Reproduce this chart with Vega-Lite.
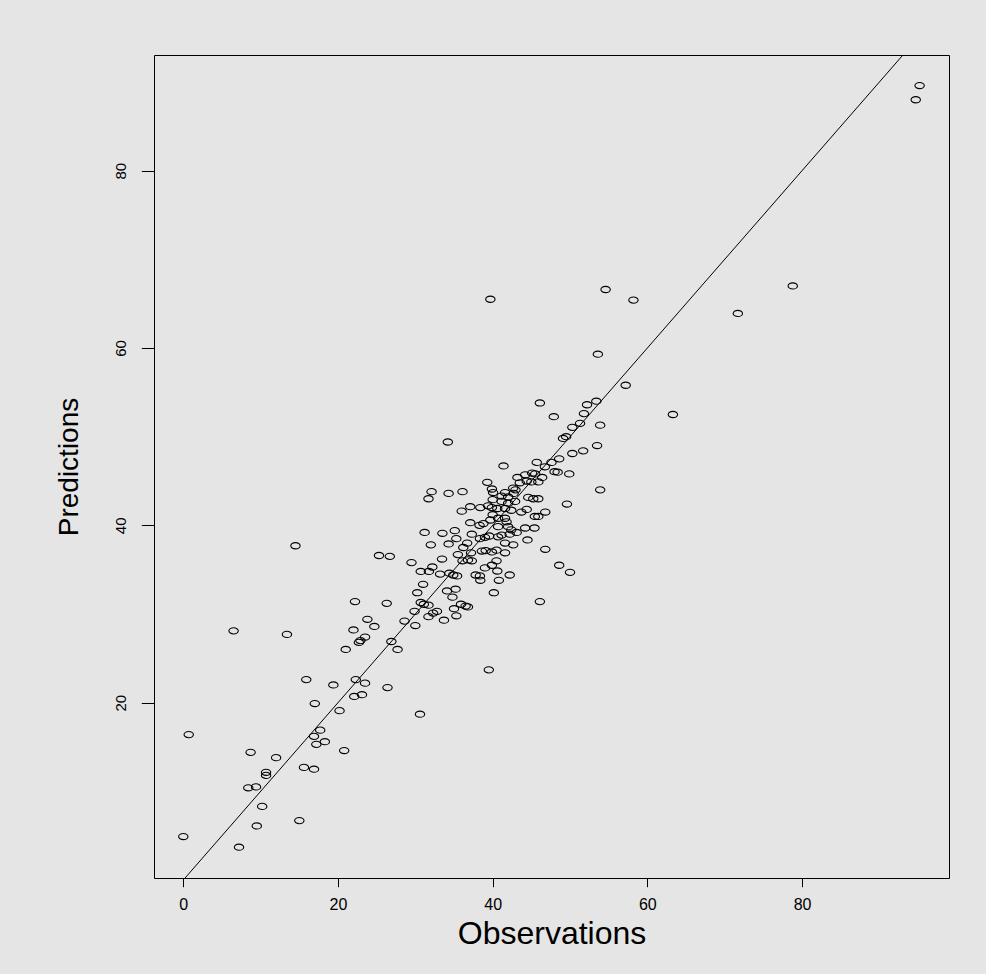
{
  "$schema": "https://vega.github.io/schema/vega-lite/v6.json",
  "width": 795,
  "height": 823,
  "autosize": {"type": "none"},
  "padding": {"left": 154, "top": 55, "right": 37, "bottom": 96},
  "background": "#e5e5e5",
  "config": {
    "view": {"stroke": "#000000", "strokeWidth": 1, "fill": null},
    "axis": {
      "domain": false, "grid": false, "ticks": true, "tickColor": "#000000", "tickWidth": 1,
      "labelColor": "#000000", "labelFont": "Liberation Sans", "titleFont": "Liberation Sans",
      "titleFontWeight": "normal", "titleColor": "#000000"
    }
  },
  "encoding": {
    "x": {
      "field": "obs", "type": "quantitative",
      "scale": {"domain": [-3.79, 99.0], "nice": false, "zero": false},
      "axis": {
        "title": "Observations", "values": [0, 20, 40, 60, 80], "tickSize": 8.7,
        "labelPadding": 10, "labelFontSize": 16, "labelBaseline": "top", "labelAlign": "center",
        "titleFontSize": 32, "titleX": 397.5, "titleY": 65, "titleBaseline": "alphabetic", "titleAlign": "center"
      }
    },
    "y": {
      "field": "pred", "type": "quantitative",
      "scale": {"domain": [0.227, 93.045], "nice": false, "zero": false},
      "axis": {
        "title": "Predictions", "values": [20, 40, 60, 80], "tickSize": 12.7,
        "labelAngle": 270, "labelAlign": "center", "labelBaseline": "bottom", "labelPadding": 12.5,
        "labelFontSize": 15, "titleFontSize": 28, "titleAngle": 270, "titleX": -77, "titleY": 411.5,
        "titleAlign": "center", "titleBaseline": "alphabetic"
      }
    }
  },
  "layer": [
    {
      "data": {"values": [
        {"obs":0.0,"pred":4.9},{"obs":0.7,"pred":16.4},{"obs":6.5,"pred":28.1},{"obs":7.2,"pred":3.7},
        {"obs":8.4,"pred":10.4},{"obs":8.7,"pred":14.4},{"obs":9.4,"pred":10.5},{"obs":9.5,"pred":6.1},
        {"obs":10.2,"pred":8.3},{"obs":10.7,"pred":12.15},{"obs":10.7,"pred":11.8},{"obs":12.0,"pred":13.8},
        {"obs":13.4,"pred":27.7},{"obs":14.5,"pred":37.7},{"obs":15.0,"pred":6.7},{"obs":15.6,"pred":12.7},
        {"obs":15.9,"pred":22.6},{"obs":16.9,"pred":12.5},{"obs":16.9,"pred":16.2},{"obs":17.0,"pred":19.9},
        {"obs":17.2,"pred":15.3},{"obs":17.7,"pred":16.9},{"obs":18.3,"pred":15.6},{"obs":19.4,"pred":22.0},
        {"obs":20.2,"pred":19.1},{"obs":20.8,"pred":14.6},{"obs":21.0,"pred":26.0},{"obs":22.0,"pred":28.2},
        {"obs":22.1,"pred":20.7},{"obs":22.2,"pred":31.4},{"obs":22.3,"pred":22.6},{"obs":22.7,"pred":26.8},
        {"obs":22.9,"pred":27.0},{"obs":23.1,"pred":20.9},{"obs":23.5,"pred":22.2},{"obs":23.5,"pred":27.4},
        {"obs":23.8,"pred":29.4},{"obs":24.7,"pred":28.6},{"obs":25.3,"pred":36.6},{"obs":26.3,"pred":31.2},
        {"obs":26.4,"pred":21.7},{"obs":26.7,"pred":36.5},{"obs":26.9,"pred":26.9},{"obs":27.7,"pred":26.0},
        {"obs":28.6,"pred":29.2},{"obs":29.5,"pred":35.8},{"obs":29.9,"pred":30.3},{"obs":30.0,"pred":28.7},
        {"obs":30.6,"pred":18.7},
        {"obs":30.7,"pred":34.8},{"obs":31.75,"pred":34.8},{"obs":31.0,"pred":33.35},{"obs":30.25,"pred":32.4},
        {"obs":30.7,"pred":31.3},{"obs":31.1,"pred":31.1},{"obs":31.7,"pred":31.0},{"obs":32.2,"pred":35.3},
        {"obs":33.45,"pred":36.2},{"obs":33.2,"pred":34.5},{"obs":34.4,"pred":34.6},{"obs":34.9,"pred":34.4},
        {"obs":35.4,"pred":34.3},{"obs":35.5,"pred":36.7},{"obs":36.1,"pred":36.0},{"obs":36.8,"pred":36.1},
        {"obs":37.3,"pred":36.0},{"obs":39.0,"pred":35.2},{"obs":37.8,"pred":34.4},{"obs":38.35,"pred":34.3},
        {"obs":38.4,"pred":33.8},{"obs":39.9,"pred":35.5},{"obs":40.5,"pred":36.0},{"obs":40.6,"pred":34.85},
        {"obs":40.8,"pred":33.8},{"obs":42.2,"pred":34.4},{"obs":40.15,"pred":32.4},{"obs":34.1,"pred":32.6},
        {"obs":35.2,"pred":32.8},{"obs":34.8,"pred":31.9},{"obs":35.9,"pred":31.1},{"obs":36.5,"pred":30.9},
        {"obs":36.8,"pred":30.8},{"obs":35.0,"pred":30.6},{"obs":32.8,"pred":30.3},{"obs":32.3,"pred":30.1},
        {"obs":31.7,"pred":29.7},{"obs":35.3,"pred":29.8},{"obs":33.7,"pred":29.3},{"obs":39.5,"pred":23.7},
        {"obs":34.2,"pred":49.4},{"obs":39.3,"pred":44.85},{"obs":32.1,"pred":43.8},{"obs":31.7,"pred":43.0},
        {"obs":34.3,"pred":43.6},{"obs":36.1,"pred":43.8},{"obs":39.9,"pred":44.1},{"obs":40.05,"pred":43.7},
        {"obs":40.0,"pred":42.9},{"obs":36.0,"pred":41.6},{"obs":37.1,"pred":42.1},{"obs":38.4,"pred":42.0},
        {"obs":39.4,"pred":42.2},{"obs":39.9,"pred":42.0},{"obs":40.0,"pred":41.2},{"obs":37.1,"pred":40.3},
        {"obs":38.3,"pred":40.0},{"obs":38.8,"pred":40.2},{"obs":39.7,"pred":40.6},{"obs":31.2,"pred":39.2},
        {"obs":33.5,"pred":39.1},{"obs":35.1,"pred":39.4},{"obs":37.3,"pred":39.0},{"obs":35.3,"pred":38.5},
        {"obs":32.0,"pred":37.8},{"obs":34.3,"pred":37.9},{"obs":36.7,"pred":38.0},{"obs":38.35,"pred":38.5},
        {"obs":39.0,"pred":38.65},{"obs":39.55,"pred":38.8},{"obs":36.2,"pred":37.5},{"obs":37.2,"pred":36.9},
        {"obs":38.6,"pred":37.1},{"obs":39.1,"pred":37.15},{"obs":39.9,"pred":37.0},
        {"obs":51.3,"pred":51.5},{"obs":50.3,"pred":51.05},{"obs":53.9,"pred":51.3},{"obs":49.1,"pred":49.8},
        {"obs":49.5,"pred":50.0},{"obs":53.5,"pred":49.0},{"obs":51.7,"pred":48.4},{"obs":50.3,"pred":48.1},
        {"obs":41.4,"pred":46.7},{"obs":45.7,"pred":47.1},{"obs":47.6,"pred":47.1},{"obs":48.6,"pred":47.5},
        {"obs":46.75,"pred":46.6},{"obs":48.0,"pred":46.05},{"obs":48.4,"pred":46.0},{"obs":49.9,"pred":45.8},
        {"obs":53.9,"pred":44.0},{"obs":43.2,"pred":45.4},{"obs":44.2,"pred":45.7},{"obs":45.1,"pred":45.9},
        {"obs":45.5,"pred":45.8},{"obs":46.4,"pred":45.4},{"obs":43.5,"pred":44.8},{"obs":44.4,"pred":45.0},
        {"obs":45.0,"pred":44.9},{"obs":45.9,"pred":44.9},{"obs":42.65,"pred":44.2},{"obs":42.95,"pred":44.0},
        {"obs":42.7,"pred":43.6},{"obs":41.6,"pred":43.7},{"obs":41.15,"pred":43.3},{"obs":42.0,"pred":43.2},
        {"obs":44.6,"pred":43.15},{"obs":45.25,"pred":43.0},{"obs":45.9,"pred":43.0},{"obs":49.6,"pred":42.4},
        {"obs":41.15,"pred":42.7},{"obs":42.0,"pred":42.5},{"obs":42.9,"pred":42.7},{"obs":40.6,"pred":41.9},
        {"obs":41.6,"pred":41.9},{"obs":42.4,"pred":41.7},{"obs":43.7,"pred":41.5},{"obs":44.4,"pred":41.8},
        {"obs":46.8,"pred":41.5},{"obs":45.45,"pred":41.0},{"obs":45.9,"pred":41.0},{"obs":40.7,"pred":40.8},
        {"obs":41.6,"pred":40.8},{"obs":41.8,"pred":40.4},{"obs":40.7,"pred":39.85},{"obs":42.0,"pred":39.85},
        {"obs":42.4,"pred":39.5},{"obs":43.1,"pred":39.2},{"obs":44.2,"pred":39.7},{"obs":45.4,"pred":39.7},
        {"obs":41.15,"pred":38.9},{"obs":42.2,"pred":39.0},{"obs":40.7,"pred":38.7},{"obs":44.5,"pred":38.35},
        {"obs":41.6,"pred":38.0},{"obs":42.65,"pred":37.8},{"obs":46.8,"pred":37.3},{"obs":40.5,"pred":37.2},
        {"obs":41.6,"pred":36.9},
        {"obs":48.6,"pred":35.5},{"obs":50.0,"pred":34.7},{"obs":46.1,"pred":31.4},
        {"obs":95.2,"pred":89.6},{"obs":94.7,"pred":88.0},{"obs":54.6,"pred":66.6},{"obs":58.2,"pred":65.4},
        {"obs":78.8,"pred":67.0},{"obs":71.7,"pred":63.9},{"obs":53.6,"pred":59.3},{"obs":57.2,"pred":55.8},
        {"obs":63.3,"pred":52.5},{"obs":53.4,"pred":54.0},{"obs":52.2,"pred":53.6},{"obs":51.8,"pred":52.6},
        {"obs":47.9,"pred":52.25},{"obs":46.1,"pred":53.8},{"obs":39.7,"pred":65.5}
      ]},
      "mark": {
        "type": "point",
        "shape": "M -1 0 A 1 0.66 0 1 0 1 0 A 1 0.66 0 1 0 -1 0 Z",
        "filled": false, "stroke": "#000000", "strokeWidth": 1.1, "size": 88, "opacity": 1
      }
    },
    {
      "data": {"values": [{"obs": 0, "pred": 0}, {"obs": 100, "pred": 100}]},
      "mark": {"type": "line", "clip": true, "color": "#000000", "strokeWidth": 1}
    }
  ]
}
